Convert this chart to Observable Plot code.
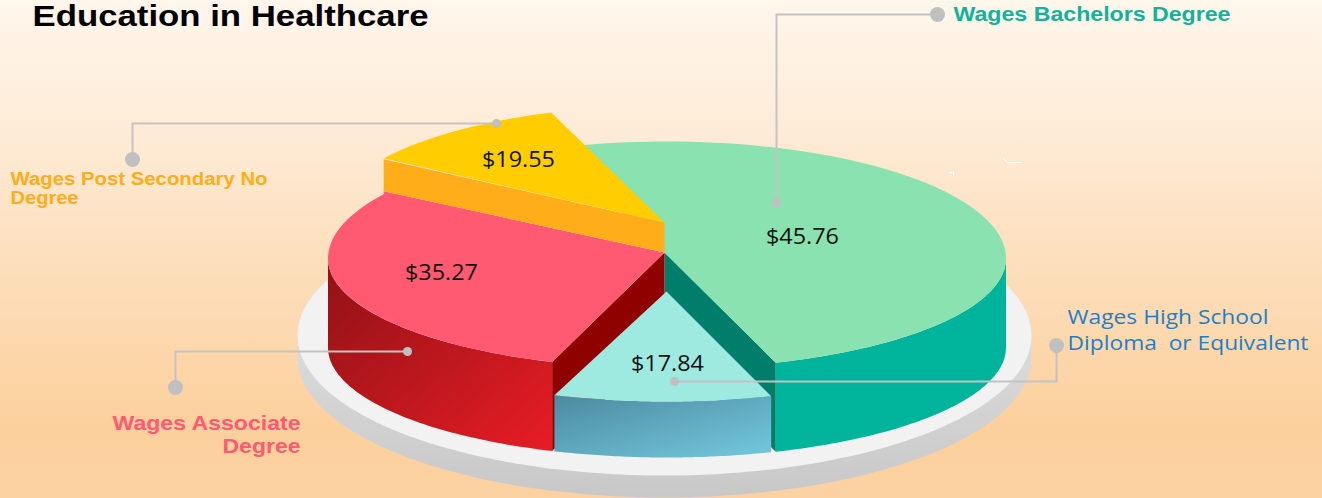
<!DOCTYPE html>
<html><head><meta charset="utf-8">
<script src="https://cdn.jsdelivr.net/npm/d3@7"></script>
<script src="https://cdn.jsdelivr.net/npm/@observablehq/plot@0.6"></script>
<style>html,body{margin:0;padding:0;background:#fcd09c}svg{display:block}</style>
</head><body><div id="chart"></div>
<script>
const categories = ["Wages Bachelors Degree", "Wages High School\nDiploma  or Equivalent", "Wages Associate\nDegree", "Wages Post Secondary No\nDegree"];
const wages = [45.76, 17.84, 35.27, 19.55];
// Swept angle of each slice as drawn in the picture (degrees); the artwork is not strictly proportional.
const sweepDegrees = [181.3, 38.5, 103.5, 36.7];
const titleText = "Education in Healthcare";

// Layout of the pie
const W = 1322, H = 498;
const C = {x: 666.5, y: 258, rx: 339, ryUp: 117, ryDown: 110};
const V = {x: 664, y: 252};
const DEPTH = 89, START = -110, TAU = Math.PI / 180;
const rim = (deg, dy = 0) => {
  const s = Math.sin(deg * TAU);
  return {x: C.x + C.rx * Math.cos(deg * TAU), y: C.y + (s < 0 ? C.ryUp : C.ryDown) * s + dy};
};
const arc = (a, b, dy = 0) => d3.range(0, 61).map(i => rim(a + (b - a) * i / 60, dy));
const down = (p, dy) => ({x: p.x, y: p.y + dy});

let acc = START;
const slices = sweepDegrees.map((s, i) => { const o = {a: acc, b: acc + s, i}; acc += s; return o; });
const [green, teal, red, yellow] = slices;

const face = (points, fill) => Plot.line(points, {x: "x", y: "y", fill, stroke: "none"});

// platter
const plat = {x: 664, y: 335, rx: 367, ry: 140, drop: 22};
const platPt = (deg, dy = 0) => ({x: plat.x + plat.rx * Math.cos(deg * TAU), y: plat.y + plat.ry * Math.sin(deg * TAU) + dy});
const platTop = d3.range(0, 181).map(i => platPt(i * 2));
const platSide = [...d3.range(0, 91).map(i => platPt(i * 2, plat.drop)), ...d3.range(90, 181).map(i => platPt(i * 2))];

// green
const greenSide = [...arc(Math.max(green.a, 0), green.b), ...arc(green.b, 0, DEPTH)];
const gE = rim(green.b);
const greenWall = [V, gE, down(gE, DEPTH), down(V, DEPTH)];
const greenTop = [V, ...arc(green.a, green.b)];
// red
const rS = rim(red.a);
const redWall = [V, rS, down(rS, DEPTH), down(V, DEPTH)];
const redSide = [...arc(red.a, 180), ...arc(180, red.a, DEPTH)];
const redEnd = {x: rim(red.b).x, y: rim(red.b).y - 3};
const redTop = [V, ...arc(red.a, red.b), redEnd];
// teal (pulled towards the viewer)
const TS = 33, TD = 56;
const tV = {x: V.x + 2, y: V.y + 39};
const tA = teal.a + 0.8, tB = teal.b - 0.4;
const tealTop = [tV, ...arc(tA, tB, TS)];
const tealSide = [...arc(tA, tB, TS), ...arc(tB, tA, TS + TD)];
// yellow (lifted)
const YS = -36;
const yV = {x: V.x, y: V.y - 30};
const yellowTop = [yV, ...arc(yellow.a, yellow.b, YS)];
const yLeft = redEnd;
const yellowWall = [yV, {x: yLeft.x, y: yLeft.y - 32}, yLeft, V];

// leaders
const leaders = [
  [{x: 937, y: 14}, {x: 776, y: 14}, {x: 776, y: 202}],
  [{x: 674, y: 381}, {x: 1056, y: 381}, {x: 1056, y: 345}],
  [{x: 407, y: 351}, {x: 175, y: 351}, {x: 175, y: 387}],
  [{x: 496, y: 123}, {x: 132, y: 123}, {x: 132, y: 159}]
];
const bigDots = [leaders[0][0], leaders[1][2], leaders[2][2], leaders[3][2]];
const smallDots = [leaders[0][2], leaders[1][0], leaders[2][0], leaders[3][0]];
const specks = [[{x: 1003, y: 158}, {x: 1007, y: 162}, {x: 1020, y: 162}], [{x: 949, y: 172}, {x: 953, y: 172}, {x: 953, y: 175}]];

// text fitted to the width it has in the picture
const fit = (width) => ({render(i, s, v, d, c, next) {
  const g = next(i, s, v, d, c);
  g.querySelectorAll("text").forEach(t => { t.setAttribute("textLength", width); t.setAttribute("lengthAdjust", "spacingAndGlyphs"); t.setAttribute("xml:space", "preserve"); });
  return g;
}});

const valuePos = [{x: 802, y: 236}, {x: 667, y: 363}, {x: 441, y: 272}, {x: 518, y: 159}];
const fmt = d3.format("$.2f");
const valueRows = wages.map((v, i) => ({...valuePos[i], text: fmt(v)}));

const labelStyle = [
  {x: 953, ys: [14], widths: [277], color: "#10b39b", anchor: "start", size: 19.5, family: "Liberation Sans", weight: 700},
  {x: 1067, ys: [317, 343], widths: [201, 241], color: "#1d7fcb", anchor: "start", size: 20, family: "Open Sans", weight: 400},
  {x: 300, ys: [423, 446], widths: [188, 78], color: "#ff5a72", anchor: "end", size: 19.5, family: "Liberation Sans", weight: 700},
  {x: 10, ys: [179, 198], widths: [257, 68], color: "#ffad19", anchor: "start", size: 18, family: "Liberation Sans", weight: 700}
];

const defs = () => {
  const s = d3.create("svg:defs");
  const lg = (id, x1, y1, x2, y2, stops) => {
    const g = s.append("linearGradient").attr("id", id).attr("x1", x1).attr("y1", y1).attr("x2", x2).attr("y2", y2);
    stops.forEach(([o, c]) => g.append("stop").attr("offset", o).attr("stop-color", c));
  };
  lg("redSide", 0, 0, 1, 1, [[0, "#8f1216"], [1, "#e81c25"]]);
  lg("tealSide", 0, 0, 1, 1, [[0, "#4d8a9f"], [1, "#73c9df"]]);
  lg("platSide", 0, 0, 0, 1, [[0, "#ededed"], [1, "#c8c8c8"]]);
  return s.node();
};

const chart = Plot.plot({
  width: W, height: H, margin: 0,
  x: {domain: [0, W], range: [0, W], axis: null},
  y: {domain: [0, H], range: [0, H], axis: null},
  style: {background: "linear-gradient(180deg,#fff6ec 0%,#feecd8 25%,#fde0bf 50%,#fcd09c 86%,#fcd2a2 100%)", overflow: "hidden"},
  marks: [
    defs,
    Plot.text([titleText], {x: 32, y: 15.5, text: d => d, fontSize: 30, fontWeight: 700, fontFamily: "Liberation Sans", textAnchor: "start", fill: "#000", ...fit(396)}),
    face(platSide, "url(#platSide)"),
    face(platTop, "#f2f2f2"),
    face(greenSide, "#00b39b"),
    face(greenWall, "#007e6b"),
    face(redSide, "url(#redSide)"),
    face(redWall, "#8f0000"),
    face(greenTop, "#8ae2b0"),
    face(redTop, "#ff5a72"),
    face(yellowWall, "#ffad19"),
    face(yellowTop, "#ffcd00"),
    face(tealSide, "url(#tealSide)"),
    face(tealTop, "#9ee9e0"),
    ...leaders.map(path => Plot.line(path, {x: "x", y: "y", stroke: "#c3c3c3", strokeWidth: 2, curve: "linear"})),
    ...specks.map(path => Plot.line(path, {x: "x", y: "y", stroke: "#fff", strokeWidth: 1, curve: "linear"})),
    Plot.dot(bigDots, {x: "x", y: "y", r: 7.5, fill: "#c0c0c0", stroke: "none"}),
    Plot.dot(smallDots, {x: "x", y: "y", r: 4.5, fill: "#c0c0c0", stroke: "none"}),
    Plot.text(valueRows, {x: "x", y: "y", text: "text", fontSize: 22.5, fontFamily: "Open Sans", fill: "#111", ...fit(73)}),
    ...categories.flatMap((c, i) => {
      const st = labelStyle[i];
      return c.split("\n").map((line, k) => Plot.text([line], {x: st.x, y: st.ys[k], text: d => d, fill: st.color, textAnchor: st.anchor, fontSize: st.size, fontFamily: st.family, fontWeight: st.weight, ...fit(st.widths[k])}));
    })
  ]
});
document.getElementById("chart").append(chart);
</script></body></html>
